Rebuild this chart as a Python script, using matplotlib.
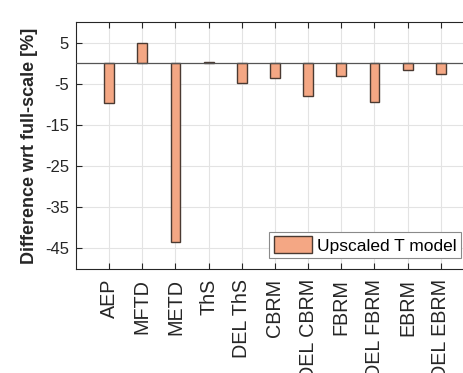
import matplotlib

matplotlib.use("Agg")

import matplotlib.pyplot as plt
import numpy as np


# ---------------------------------------------------------------------------
# Data
# ---------------------------------------------------------------------------

categories = [
    "AEP", "MFTD", "METD", "ThS", "DEL ThS", "CBRM",
    "DEL CBRM", "FBRM", "DEL FBRM", "EBRM", "DEL EBRM",
]
upscaled_t_model = [-9.7, 4.8, -43.4, 0.2, -4.7, -3.5, -7.9, -3.2, -9.5, -1.6, -2.7]
y_ticks = [5, -5, -15, -25, -35, -45]

AXIS_GRAY = "#262626"
BAR_FACE = "#F4A784"
BAR_EDGE = "#4a3a32"


def plot_chart(save_path="out.png"):
    plt.rcParams["font.family"] = ["Liberation Sans", "DejaVu Sans"]

    fig = plt.figure(figsize=(4.64, 3.73), dpi=100)
    ax = fig.add_axes([76 / 464, 1 - 269 / 373, 398 / 464, 247 / 373])

    x = np.arange(1, len(categories) + 1)
    ax.bar(
        x, upscaled_t_model, width=0.3,
        color=BAR_FACE, edgecolor=BAR_EDGE, linewidth=1.0,
        label="Upscaled T model", zorder=3,
    )
    ax.axhline(0, color="#555555", linewidth=0.9, zorder=4)

    ax.set_xlim(0, 12)
    ax.set_ylim(-50, 10)
    ax.set_xticks(x)
    ax.set_xticklabels(categories, rotation=90, fontsize=14.2, color=AXIS_GRAY)
    ax.set_yticks(y_ticks)
    ax.set_yticklabels([str(v) for v in y_ticks], fontsize=12, color=AXIS_GRAY)

    ax.grid(True, color="#e3e3e3", linewidth=0.8, zorder=0)
    ax.set_axisbelow(True)
    ax.tick_params(direction="in", length=4, width=0.8, color=AXIS_GRAY,
                   top=True, right=True, pad=5)
    ax.tick_params(axis="x", pad=7)
    for spine in ax.spines.values():
        spine.set_color(AXIS_GRAY)
        spine.set_linewidth(0.8)

    ax.set_ylabel("Difference wrt full-scale [%]", fontsize=13,
                  fontweight="bold", color=AXIS_GRAY, labelpad=5)

    leg = ax.legend(
        loc="lower right", bbox_to_anchor=(461 / 464, 1 - 258 / 373),
        bbox_transform=fig.transFigure, fontsize=12.5, frameon=True,
        fancybox=False, edgecolor="#8a8a8a", framealpha=1,
        handlelength=2.2, handleheight=1.1, handletextpad=0.3,
        borderpad=0.25, borderaxespad=0,
    )
    leg.get_frame().set_linewidth(0.8)

    fig.savefig(save_path, dpi=100)
    plt.close(fig)


if __name__ == "__main__":
    plot_chart()
